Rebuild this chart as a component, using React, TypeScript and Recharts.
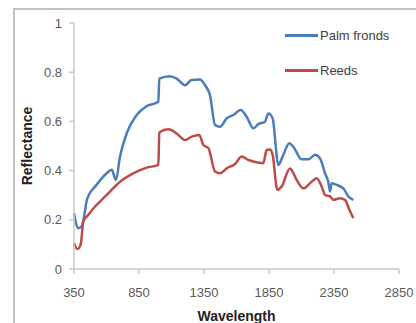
import { LineChart, Line, XAxis, YAxis } from "recharts";

const palmWave = [350, 383, 409, 453, 524, 601, 640, 673, 704, 755, 832, 909, 999, 1006, 1088, 1140, 1204, 1255, 1319, 1358, 1396, 1435, 1473, 1524, 1576, 1632, 1678, 1730, 1768, 1819, 1845, 1878, 1922, 1960, 2006, 2037, 2101, 2153, 2204, 2242, 2281, 2306, 2319, 2332, 2370, 2422, 2460, 2499];
const palmRefl = [0.227, 0.166, 0.173, 0.288, 0.342, 0.389, 0.403, 0.362, 0.457, 0.551, 0.626, 0.662, 0.68, 0.774, 0.784, 0.774, 0.747, 0.768, 0.77, 0.747, 0.707, 0.585, 0.578, 0.612, 0.626, 0.646, 0.619, 0.572, 0.589, 0.599, 0.632, 0.612, 0.423, 0.464, 0.511, 0.497, 0.446, 0.446, 0.464, 0.45, 0.389, 0.355, 0.315, 0.349, 0.342, 0.328, 0.295, 0.281];

const reedWave = [350, 376, 401, 422, 460, 512, 563, 627, 704, 806, 909, 999, 1006, 1076, 1140, 1204, 1255, 1314, 1345, 1384, 1435, 1473, 1524, 1589, 1640, 1691, 1755, 1806, 1832, 1858, 1878, 1914, 1947, 2011, 2063, 2114, 2178, 2217, 2255, 2281, 2319, 2345, 2396, 2435, 2468, 2499];
const reedRefl = [0.105, 0.081, 0.099, 0.193, 0.22, 0.254, 0.281, 0.315, 0.355, 0.389, 0.412, 0.423, 0.555, 0.568, 0.551, 0.524, 0.538, 0.545, 0.504, 0.491, 0.396, 0.389, 0.409, 0.427, 0.457, 0.443, 0.434, 0.43, 0.484, 0.486, 0.464, 0.322, 0.335, 0.409, 0.362, 0.328, 0.355, 0.369, 0.335, 0.301, 0.295, 0.281, 0.288, 0.281, 0.241, 0.207];

const xTicks = [350, 850, 1350, 1850, 2350, 2850];
const yTicks = [0, 0.2, 0.4, 0.6, 0.8, 1];

const BLUE = "#4a7ebb";
const RED = "#be4b48";
const AXIS = "#c8c8c8";
const FONT = '"Liberation Sans", Arial, sans-serif';

const palmData = palmWave.map((w, i) => ({ w, r: palmRefl[i] }));
const reedData = reedWave.map((w, i) => ({ w, r: reedRefl[i] }));

const legendItems = [
  { name: "Palm fronds", color: BLUE },
  { name: "Reeds", color: RED },
];

function LegendBox() {
  return (
    <div style={{ position: "absolute", left: 285, top: 18, fontFamily: FONT, fontSize: 13, color: "#404040" }}>
      {legendItems.map((it) => (
        <div key={it.name} style={{ display: "flex", alignItems: "center", height: 35 }}>
          <span style={{ width: 33, height: 3, background: it.color, display: "inline-block", marginRight: 2 }} />
          <span>{it.name}</span>
        </div>
      ))}
    </div>
  );
}

export default function App() {
  return (
    <div style={{ position: "fixed", left: 0, top: 0, width: 416, height: 323, overflow: "hidden", background: "#fff" }}>
      <div style={{ position: "absolute", left: 13, top: 8, width: 600, height: 600, border: "2px solid #c0c0c0" }} />
      <LineChart
        width={416}
        height={323}
        margin={{ top: 23, right: 17, bottom: 24, left: 14 }}
        style={{ position: "absolute", left: 0, top: 0 }}
      >
        <XAxis
          type="number"
          dataKey="w"
          domain={[350, 2850]}
          ticks={xTicks}
          allowDuplicatedCategory={false}
          stroke={AXIS}
          strokeWidth={1.5}
          tickSize={5}
          tickMargin={14}
          height={30}
          tick={{ fill: "#595959", fontSize: 13, fontFamily: FONT }}
          label={{ value: "Wavelength", position: "insideBottom", offset: -22, style: { fontFamily: FONT, fontSize: 14, fontWeight: "bold", fill: "#222" } }}
        />
        <YAxis
          type="number"
          dataKey="r"
          domain={[0, 1]}
          ticks={yTicks}
          width={60}
          stroke={AXIS}
          strokeWidth={1.5}
          tickSize={5}
          tickMargin={7}
          tick={{ fill: "#595959", fontSize: 13, fontFamily: FONT }}
          tickFormatter={(v: number) => String(v)}
          label={{ value: "Reflectance", angle: -90, position: "insideLeft", offset: 13, style: { textAnchor: "middle", fontFamily: FONT, fontSize: 14, fontWeight: "bold", fill: "#222" } }}
        />
        <Line data={palmData} dataKey="r" name="Palm fronds" stroke={BLUE} strokeWidth={2.5} dot={false} type="monotone" isAnimationActive={false} />
        <Line data={reedData} dataKey="r" name="Reeds" stroke={RED} strokeWidth={2.5} dot={false} type="monotone" isAnimationActive={false} />
      </LineChart>
      <LegendBox />
    </div>
  );
}
